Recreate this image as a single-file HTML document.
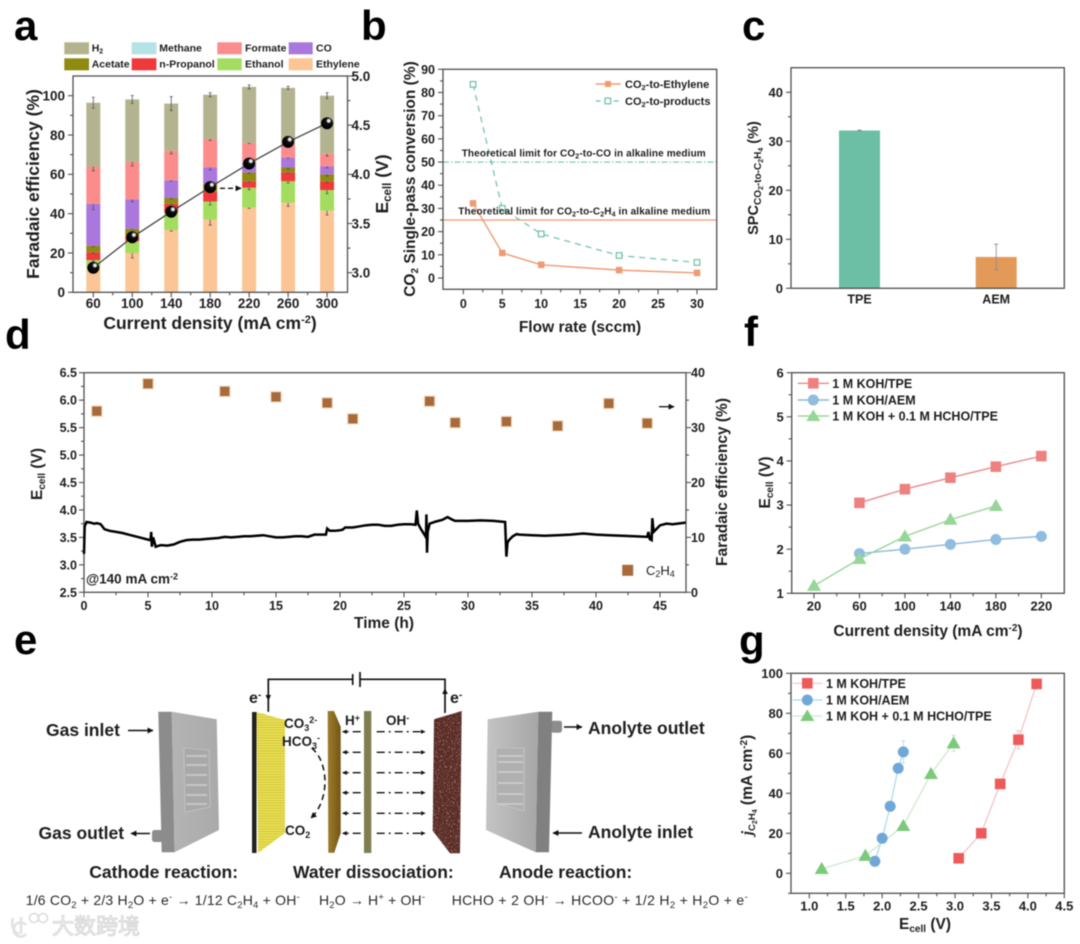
<!DOCTYPE html>
<html lang="en">
<head>
<meta charset="utf-8">
<title>Electrolyzer performance figure</title>
<style>
html,body{margin:0;padding:0;background:#fff;width:1080px;height:944px;overflow:hidden}
#figure{display:block;filter:blur(0.4px)}
text{font-family:"Liberation Sans","Noto Sans CJK SC",sans-serif;fill:#1e1e1e}
.b{font-weight:700}
.letter{font-size:42px;font-weight:700;fill:#000}
.title{font-size:15.5px;font-weight:700}
.big{font-size:17.5px;font-weight:700}
.leg{font-size:10.5px;font-weight:700}
.leg2{font-size:12.5px;font-weight:700}
.eq{font-size:14px;fill:#2a2a2a}
</style>
</head>
<body>
<svg id="figure" xmlns="http://www.w3.org/2000/svg" width="1080" height="944" viewBox="0 0 1080 944">
<defs>
<marker id="ah" viewBox="0 0 10 10" refX="9" refY="5" markerWidth="6" markerHeight="6" markerUnits="userSpaceOnUse" orient="auto"><path d="M0 0L10 5L0 10z" fill="#111"/></marker>
<marker id="ahs" viewBox="0 0 10 10" refX="9" refY="5" markerWidth="4.5" markerHeight="4.5" markerUnits="userSpaceOnUse" orient="auto"><path d="M0 0L10 5L0 10z" fill="#111"/></marker>
<radialGradient id="ball" cx="0.64" cy="0.3" r="0.6"><stop offset="0" stop-color="#fff"/><stop offset="0.2" stop-color="#ddd"/><stop offset="0.36" stop-color="#111"/><stop offset="1" stop-color="#000"/></radialGradient>
<linearGradient id="plateL" x1="0" x2="1" y1="0" y2="0"><stop offset="0" stop-color="#b4b4b4"/><stop offset="1" stop-color="#aaaaaa"/></linearGradient>
<linearGradient id="plateR" x1="0" x2="1" y1="0" y2="0"><stop offset="0" stop-color="#c4c4c4"/><stop offset="1" stop-color="#a6a6a6"/></linearGradient>
<linearGradient id="brownG" x1="0" x2="1" y1="0" y2="0"><stop offset="0" stop-color="#9c7d2c"/><stop offset="0.5" stop-color="#8a6a20"/><stop offset="1" stop-color="#6f5518"/></linearGradient>
<pattern id="yellowStripes" width="4" height="2.6" patternUnits="userSpaceOnUse"><rect width="4" height="2.6" fill="#ebe152"/><rect y="1.9" width="4" height="0.7" fill="#c4b938"/></pattern>
<filter id="speckle" x="0" y="0" width="100%" height="100%"><feTurbulence type="fractalNoise" baseFrequency="0.75" numOctaves="2" seed="4" result="n"/><feColorMatrix in="n" type="matrix" values="0 0 0 0 .78  0 0 0 0 .62  0 0 0 0 .58  0 0 0 4 -2.35"/><feComposite in2="SourceGraphic" operator="in"/></filter>
</defs>

<!-- panel letters -->
<text class="letter" x="14" y="40">a</text>
<text class="letter" x="361" y="40">b</text>
<text class="letter" x="742" y="40">c</text>
<text class="letter" x="5" y="349">d</text>
<text class="letter" x="14" y="654">e</text>
<text class="letter" x="744" y="346">f</text>
<text class="letter" x="739" y="655">g</text>

<!-- panel a static -->
<g>
<rect x="64.3" y="42.3" width="24.7" height="12" fill="#b3b48f"/>
<text class="leg" x="91.7" y="51.7">H<tspan dy="2" font-size="7">2</tspan></text>
<rect x="131.7" y="42.3" width="24.7" height="12" fill="#b3e3e6"/>
<text class="leg" x="159.3" y="51.7">Methane</text>
<rect x="217.3" y="42.3" width="24.4" height="12" fill="#fb8c8c"/>
<text class="leg" x="245" y="51.7">Formate</text>
<rect x="288.7" y="42.3" width="24" height="12" fill="#aa77dd"/>
<text class="leg" x="316" y="51.7">CO</text>
<rect x="64.3" y="58.3" width="24.7" height="12" fill="#8f8a10"/>
<text class="leg" x="91.7" y="67.7">Acetate</text>
<rect x="131.7" y="58.3" width="24.7" height="12" fill="#ee3a3a"/>
<text class="leg" x="159.3" y="67.7">n-Propanol</text>
<rect x="217.3" y="58.3" width="24.4" height="12" fill="#a4dc5f"/>
<text class="leg" x="245" y="67.7">Ethanol</text>
<rect x="288.7" y="58.3" width="24" height="12" fill="#fbc596"/>
<text class="leg" x="316" y="67.7">Ethylene</text>
</g>
<text class="big" font-size="17.3" transform="rotate(-90 39 184)" x="39" y="184" text-anchor="middle">Faradaic efficiency (%)</text>
<text class="big" x="210" y="329" text-anchor="middle">Current density (mA cm<tspan dy="-6" font-size="11">-2</tspan><tspan dy="6">)</tspan></text>
<text class="big" transform="rotate(-90 388 184)" x="388" y="184" text-anchor="middle">E<tspan dy="3" font-size="11.5">cell</tspan><tspan dy="-3"> (V)</tspan></text>
<g id="plotA"></g>
<line x1="220" y1="188.3" x2="241" y2="188.3" stroke="#111" stroke-width="1.4" stroke-dasharray="5 3" marker-end="url(#ah)"/>

<!-- panel b static -->
<text class="title" transform="rotate(-90 415 179)" x="415" y="179" text-anchor="middle">CO<tspan dy="3" font-size="10">2</tspan><tspan dy="-3"> Single-pass conversion (%)</tspan></text>
<text class="title" x="580" y="332" text-anchor="middle">Flow rate (sccm)</text>
<g id="plotB"></g>
<text class="b" font-size="10" x="461.7" y="156.7" textLength="244">Theoretical limit for CO<tspan dy="2" font-size="7">2</tspan><tspan dy="-2">-to-CO in alkaline medium</tspan></text>
<text class="b" font-size="10" x="458.3" y="214.3" textLength="252">Theoretical limit for CO<tspan dy="2" font-size="7">2</tspan><tspan dy="-2">-to-C</tspan><tspan dy="2" font-size="7">2</tspan><tspan dy="-2">H</tspan><tspan dy="2" font-size="7">4</tspan><tspan dy="-2"> in alkaline medium</tspan></text>
<g>
<line x1="595.7" y1="84" x2="620.7" y2="84" stroke="#ee9a72" stroke-width="1.4"/>
<rect x="605" y="81" width="6" height="6" fill="#ee9a72"/>
<text class="b" font-size="11" x="625" y="88">CO<tspan dy="2" font-size="7.5">2</tspan><tspan dy="-2">-to-Ethylene</tspan></text>
<line x1="595.7" y1="101" x2="620.7" y2="101" stroke="#6cbfa4" stroke-width="1.2" stroke-dasharray="5 4"/>
<rect x="605" y="98.2" width="5.6" height="5.6" fill="#fff" stroke="#6cbfa4" stroke-width="1.2"/>
<text class="b" font-size="11" x="625" y="105">CO<tspan dy="2" font-size="7.5">2</tspan><tspan dy="-2">-to-products</tspan></text>
</g>

<!-- panel c static -->
<text class="b" font-size="14.5" transform="rotate(-90 758 178)" x="758" y="178" text-anchor="middle">SPC<tspan dy="3" font-size="10">CO</tspan><tspan dy="2" font-size="7">2</tspan><tspan dy="-2" font-size="10">-to-C</tspan><tspan dy="2" font-size="7">2</tspan><tspan dy="-2" font-size="10">H</tspan><tspan dy="2" font-size="7">4</tspan><tspan dy="-5"> (%)</tspan></text>
<g id="plotC"></g>

<!-- panel d static -->
<text class="title" transform="rotate(-90 42 474)" x="42" y="474" text-anchor="middle">E<tspan dy="3" font-size="10">cell</tspan><tspan dy="-3"> (V)</tspan></text>
<text class="title" x="384" y="628" text-anchor="middle">Time (h)</text>
<text class="title" transform="rotate(-90 727 482)" x="727" y="482" text-anchor="middle">Faradaic efficiency (%)</text>
<g id="plotD"></g>
<text class="b" font-size="13.5" x="86" y="583.3">@140 mA cm<tspan dy="-4" font-size="9">-2</tspan></text>
<rect x="622.2" y="564.8" width="11" height="11" fill="#a86a38"/>
<text font-size="13" font-weight="500" x="646" y="575">C<tspan dy="2" font-size="9">2</tspan><tspan dy="-2">H</tspan><tspan dy="2" font-size="9">4</tspan></text>
<line x1="659" y1="406.7" x2="674" y2="406.7" stroke="#111" stroke-width="1.3" marker-end="url(#ah)"/>

<!-- panel f static -->
<text class="title" transform="rotate(-90 770 482.5)" x="770" y="482.5" text-anchor="middle">E<tspan dy="3" font-size="10">cell</tspan><tspan dy="-3"> (V)</tspan></text>
<text class="title" x="928" y="636" text-anchor="middle">Current density (mA cm<tspan dy="-5" font-size="10">-2</tspan><tspan dy="5">)</tspan></text>
<g id="plotF"></g>
<g>
<line x1="797.7" y1="383.3" x2="829" y2="383.3" stroke="#ea8a8a" stroke-width="1.4"/>
<rect x="808" y="378" width="10.6" height="10.6" fill="#ee8080"/>
<text class="leg2" x="832.3" y="388">1 M KOH/TPE</text>
<line x1="797.7" y1="400" x2="829" y2="400" stroke="#8db8dc" stroke-width="1.4"/>
<circle cx="813.3" cy="400" r="5.5" fill="#8fbce0"/>
<text class="leg2" x="832.3" y="404.6">1 M KOH/AEM</text>
<line x1="797.7" y1="416" x2="829" y2="416" stroke="#98d598" stroke-width="1.4"/>
<polygon points="813.3,409.5 820.3,421 806.3,421" fill="#98d598"/>
<text class="leg2" x="832.3" y="420.6">1 M KOH + 0.1 M HCHO/TPE</text>
</g>

<!-- panel g static -->
<text class="title" transform="rotate(-90 752 785)" x="752" y="785" text-anchor="middle"><tspan font-style="italic" font-family="Liberation Serif">j</tspan><tspan dy="3" font-size="9.5">C</tspan><tspan dy="2" font-size="7">2</tspan><tspan dy="-2" font-size="9.5">H</tspan><tspan dy="2" font-size="7">4</tspan><tspan dy="-5"> (mA cm</tspan><tspan dy="-5" font-size="10">-2</tspan><tspan dy="5">)</tspan></text>
<text class="title" x="925" y="929" text-anchor="middle">E<tspan dy="3" font-size="10">cell</tspan><tspan dy="-3"> (V)</tspan></text>
<g id="plotG"></g>
<g>
<line x1="792.7" y1="683.3" x2="822.3" y2="683.3" stroke="#f5c0c0" stroke-width="1.2"/>
<rect x="802" y="678" width="10.6" height="10.6" fill="#ee5a5a"/>
<text class="leg2" x="826" y="688">1 M KOH/TPE</text>
<line x1="792.7" y1="700" x2="822.3" y2="700" stroke="#b0d4ea" stroke-width="1.2"/>
<circle cx="807.3" cy="700" r="5.5" fill="#6fa8d8"/>
<text class="leg2" x="826" y="704.6">1 M KOH/AEM</text>
<line x1="792.7" y1="716" x2="822.3" y2="716" stroke="#c8e8c8" stroke-width="1.2"/>
<polygon points="807.3,709.5 814.3,721 800.3,721" fill="#7cc97c"/>
<text class="leg2" x="826" y="720.6">1 M KOH + 0.1 M HCHO/TPE</text>
</g>

<!-- panel e diagram -->
<g>
<g>
<rect x="152" y="830" width="11" height="12" rx="2.5" fill="#8d8d8d"/>
<polygon points="171.7,711.7 216.7,719.3 219,830 174.5,852.3" fill="url(#plateL)"/>
<polygon points="158.3,711.7 171.7,711.7 174.5,852.3 161.7,852.3" fill="#8c8c8c"/>
<polygon points="184,748 209,750 210,807 185,812" fill="#a8a8a8" stroke="#cfcfcf" stroke-width="0.6"/>
<path d="M186 756H207M186 765H207M186 775H207M186 785H207M186 795H207M186 804H207" stroke="#c9c9c9" stroke-width="1.8" fill="none"/>
</g>
<rect x="252" y="712" width="4.5" height="141" fill="#222"/>
<polygon points="256.5,712 285,720 285,833 258,853" fill="url(#yellowStripes)"/>
<polygon points="327.7,711 334,711 340.7,726.7 340.7,833 334.3,852.7 328.3,852.7" fill="url(#brownG)"/>
<rect x="364" y="711" width="7.3" height="142" fill="#7e7e50"/>
<polygon points="434,719.3 461.7,711 460,853.3 450,853.3 432.7,830.7" fill="#5a2c26"/>
<polygon points="434,719.3 461.7,711 460,853.3 450,853.3 432.7,830.7" fill="#000" filter="url(#speckle)"/>
<g>
<rect x="551" y="720.7" width="11" height="12" rx="2.5" fill="#8d8d8d"/>
<polygon points="487.7,719.3 538.3,711.7 535.7,852.3 486,830" fill="url(#plateR)"/>
<polygon points="538.3,711.7 552.3,711.7 549,852.3 535.7,852.3" fill="#808080"/>
<polygon points="496,748 524,748 524,811 496,803" fill="#b0b0b0" stroke="#d0d0d0" stroke-width="0.6"/>
<path d="M498 756H523M498 762H523M498 772H523M498 783H523M498 794H523M498 804H523" stroke="#cfcfcf" stroke-width="1.5" fill="none"/>
</g>
<path d="M268.3 711.7V679.3H352.7M360 679.3H445V713" fill="none" stroke="#111" stroke-width="1.7"/>
<line x1="352.7" y1="674" x2="352.7" y2="685" stroke="#111" stroke-width="1.7"/>
<line x1="360" y1="672" x2="360" y2="687" stroke="#111" stroke-width="1.7"/>
<polygon points="265.5,695 271,695 268.3,701" fill="#111"/>
<polygon points="442.2,694 447.8,694 445,688" fill="#111"/>
<text class="b" font-size="16" x="249" y="703">e<tspan dy="-5" font-size="10.5">-</tspan></text>
<text class="b" font-size="16" x="450" y="703">e<tspan dy="-5" font-size="10.5">-</tspan></text>
<text class="b" font-size="13.5" x="284" y="728">CO<tspan dy="3" font-size="9">3</tspan><tspan dy="-8" font-size="9">2-</tspan></text>
<text class="b" font-size="13.5" x="282" y="746">HCO<tspan dy="3" font-size="9">3</tspan><tspan dy="-8" font-size="9">-</tspan></text>
<text class="b" font-size="13.5" x="285" y="835">CO<tspan dy="3" font-size="9">2</tspan></text>
<text class="b" font-size="13.5" x="345" y="725">H<tspan dy="-4" font-size="9">+</tspan></text>
<text class="b" font-size="13.5" x="386" y="725">OH<tspan dy="-4" font-size="9">-</tspan></text>
<path d="M311.7 748C329 762 330 800 311 818" fill="none" stroke="#111" stroke-width="1.5" stroke-dasharray="6 4" marker-end="url(#ah)"/>
<g stroke="#111" stroke-width="1.3" fill="none">
<line x1="360.7" y1="731.7" x2="342.7" y2="731.7" stroke-dasharray="8 4" marker-end="url(#ahs)"/>
<line x1="360.7" y1="752.3" x2="342.7" y2="752.3" stroke-dasharray="8 4" marker-end="url(#ahs)"/>
<line x1="360.7" y1="772.7" x2="342.7" y2="772.7" stroke-dasharray="8 4" marker-end="url(#ahs)"/>
<line x1="360.7" y1="792.7" x2="342.7" y2="792.7" stroke-dasharray="8 4" marker-end="url(#ahs)"/>
<line x1="360.7" y1="813.3" x2="342.7" y2="813.3" stroke-dasharray="8 4" marker-end="url(#ahs)"/>
<line x1="360.7" y1="833.3" x2="342.7" y2="833.3" stroke-dasharray="8 4" marker-end="url(#ahs)"/>
</g>
<g stroke="#111" stroke-width="1.3" fill="none">
<line x1="376.7" y1="731.7" x2="425" y2="731.7" stroke-dasharray="8 4 2 4" marker-end="url(#ahs)"/>
<line x1="376.7" y1="752.3" x2="425" y2="752.3" stroke-dasharray="8 4 2 4" marker-end="url(#ahs)"/>
<line x1="376.7" y1="772.7" x2="425" y2="772.7" stroke-dasharray="8 4 2 4" marker-end="url(#ahs)"/>
<line x1="376.7" y1="792.7" x2="425" y2="792.7" stroke-dasharray="8 4 2 4" marker-end="url(#ahs)"/>
<line x1="376.7" y1="813.3" x2="425" y2="813.3" stroke-dasharray="8 4 2 4" marker-end="url(#ahs)"/>
<line x1="376.7" y1="833.3" x2="425" y2="833.3" stroke-dasharray="8 4 2 4" marker-end="url(#ahs)"/>
</g>
<text class="big" x="46" y="736">Gas inlet</text>
<line x1="128" y1="730.5" x2="153" y2="730.5" stroke="#111" stroke-width="1.5" marker-end="url(#ah)"/>
<text class="big" x="38.5" y="839">Gas outlet</text>
<line x1="150" y1="833.5" x2="131" y2="833.5" stroke="#111" stroke-width="1.5" marker-end="url(#ah)"/>
<text class="big" x="588" y="734">Anolyte outlet</text>
<line x1="564" y1="727" x2="582" y2="727" stroke="#111" stroke-width="1.5" marker-end="url(#ah)"/>
<text class="big" x="588" y="838">Anolyte inlet</text>
<line x1="582" y1="833" x2="553" y2="833" stroke="#111" stroke-width="1.5" marker-end="url(#ah)"/>
<text class="big" x="89.3" y="878">Cathode reaction:</text>
<text class="big" x="293" y="878">Water dissociation:</text>
<text class="big" x="499" y="878">Anode reaction:</text>
<text class="eq" x="25.7" y="905" textLength="274">1/6 CO<tspan dy="3" font-size="9.5">2</tspan><tspan dy="-3"> + 2/3 H</tspan><tspan dy="3" font-size="9.5">2</tspan><tspan dy="-3">O + e</tspan><tspan dy="-5" font-size="9.5">-</tspan><tspan dy="5"> → 1/12 C</tspan><tspan dy="3" font-size="9.5">2</tspan><tspan dy="-3">H</tspan><tspan dy="3" font-size="9.5">4</tspan><tspan dy="-3"> + OH</tspan><tspan dy="-5" font-size="9.5">-</tspan></text>
<text class="eq" x="319" y="905" textLength="106">H<tspan dy="3" font-size="9.5">2</tspan><tspan dy="-3">O → H</tspan><tspan dy="-5" font-size="9.5">+</tspan><tspan dy="5"> + OH</tspan><tspan dy="-5" font-size="9.5">-</tspan></text>
<text class="eq" x="451.7" y="905" textLength="296">HCHO + 2 OH<tspan dy="-5" font-size="9.5">-</tspan><tspan dy="5"> → HCOO</tspan><tspan dy="-5" font-size="9.5">-</tspan><tspan dy="5"> + 1/2 H</tspan><tspan dy="3" font-size="9.5">2</tspan><tspan dy="-3"> + H</tspan><tspan dy="3" font-size="9.5">2</tspan><tspan dy="-3">O + e</tspan><tspan dy="-5" font-size="9.5">-</tspan></text>
</g>

<!-- watermark -->
<g>
<path d="M13 918C11 925 13 932 19 934M21 917V934M26 925A7 7 0 1 0 26 934" fill="none" stroke="#e2e2e2" stroke-width="2.6"/>
<circle cx="34" cy="918" r="4.5" fill="#fff" stroke="#dcdcdc" stroke-width="1.6"/>
<circle cx="43" cy="918" r="4.5" fill="#fff" stroke="#dcdcdc" stroke-width="1.6"/>
<text x="52" y="934" font-size="22" style="fill:#f2f2f2;stroke:#d6d6d6;stroke-width:0.9">大数跨境</text>
</g>
</svg>

<script>
// ---- panel a data ----
const aCategories = [60, 100, 140, 180, 220, 260, 300];
const aEthylene = [12, 20, 31.7, 37, 43, 45.5, 41.5];
const aEthanol = [4.4, 6, 8.8, 9.2, 10.2, 11, 10.5];
const aPropanol = [4, 2.3, 4.5, 5, 3.3, 4.5, 4.5];
const aAcetate = [3.3, 4, 3, 4, 4.5, 2.5, 3.5];
const aCO = [21.3, 15, 9, 8.3, 5, 5, 4];
const aFormate = [19, 19, 15, 14.5, 10, 6.5, 6.5];
const aH2 = [32.4, 31.8, 24, 22.5, 28.5, 29, 29.5];
const aErrEthylene = [1, 2.5, 0.6, 2.8, 0.3, 1.8, 2.2];
const aErrEthanol = [0.6, 0.5, 0.5, 1.8, 1, 0.9, 1.8];
const aErrPropanol = [0.5, 0.3, 0.4, 0.5, 0.6, 0.4, 0.8];
const aErrAcetate = [0.5, 0.4, 0.5, 0.4, 0.6, 0.9, 0.8];
const aErrCO = [3, 1.2, 0.4, 1.2, 0.3, 0.3, 0.7];
const aErrFormate = [2.2, 2, 1.5, 0.8, 0.3, 0.3, 1.2];
const aErrH2 = [2.8, 2, 3.5, 1, 1, 0.8, 1.5];
const aCellVoltage = [3.05, 3.36, 3.62, 3.87, 4.11, 4.33, 4.52];
const aYTicks = [0, 20, 40, 60, 80, 100];
const aYRightTicks = ['3.0', '3.5', '4.0', '4.5', '5.0'];

// ---- panel b data ----
const bFlowRate = [1.25, 5, 10, 20, 30];
const bEthylene = [32.2, 10.8, 5.7, 3.4, 2.2];
const bProducts = [83.5, 30, 19, 9.7, 6.7];
const bLimitCO = [50];
const bLimitC2H4 = [25];
const bXTicks = [0, 5, 10, 15, 20, 25, 30];
const bYTicks = [0, 10, 20, 30, 40, 50, 60, 70, 80, 90];

// ---- panel c data ----
const cCategories = ['TPE', 'AEM'];
const cValues = [32.2, 6.4];
const cErrors = [0.1, 2.6];
const cYTicks = [0, 10, 20, 30, 40];

// ---- panel d data ----
const dTime = [0, 0.05, 0.2, 0.5, 0.8, 1, 1.3, 1.6, 2, 2.5, 3, 3.5, 4, 4.5, 5, 5.2, 5.25, 5.3, 5.4, 5.5, 5.6, 6, 6.5, 7, 7.5, 8, 8.5, 9, 9.5, 10, 10.5, 11, 11.5, 12, 12.5, 13, 13.5, 14, 14.5, 15, 15.5, 16, 16.5, 17, 17.5, 18, 18.9, 19, 19.2, 19.6, 20, 20.2, 20.4, 21, 21.5, 22, 22.5, 23, 23.5, 24, 24.5, 25, 25.5, 25.9, 26, 26.1, 26.3, 26.6, 26.72, 26.75, 26.8, 26.85, 27, 27.5, 28, 28.4, 28.8, 29, 30, 31, 32, 32.9, 33, 33.08, 33.2, 33.5, 33.8, 34, 35, 36, 37, 38, 39, 40, 41, 42, 43, 44, 44.1, 44.2, 44.35, 44.4, 44.5, 45, 45.5, 46, 47];
const dVoltage = [3.2, 3.7, 3.78, 3.77, 3.75, 3.76, 3.74, 3.65, 3.62, 3.6, 3.58, 3.55, 3.52, 3.49, 3.46, 3.45, 3.6, 3.33, 3.5, 3.42, 3.33, 3.36, 3.35, 3.37, 3.42, 3.45, 3.46, 3.46, 3.47, 3.48, 3.49, 3.51, 3.5, 3.51, 3.52, 3.52, 3.53, 3.54, 3.52, 3.5, 3.5, 3.51, 3.52, 3.52, 3.51, 3.55, 3.55, 3.66, 3.62, 3.62, 3.63, 3.64, 3.68, 3.68, 3.7, 3.72, 3.73, 3.73, 3.71, 3.71, 3.73, 3.74, 3.74, 3.73, 3.99, 3.75, 3.66, 3.55, 3.5, 3.92, 3.22, 3.6, 3.75, 3.79, 3.82, 3.87, 3.82, 3.8, 3.8, 3.81, 3.8, 3.78, 3.15, 3.4, 3.45, 3.52, 3.56, 3.55, 3.54, 3.53, 3.54, 3.55, 3.57, 3.55, 3.54, 3.53, 3.52, 3.51, 3.6, 3.47, 3.45, 3.85, 3.6, 3.72, 3.75, 3.74, 3.77];
const dFETime = [1, 5, 11, 15, 19, 21, 27, 29, 33, 37, 41, 44];
const dFE = [33, 38, 36.6, 35.6, 34.5, 31.6, 34.8, 30.9, 31.1, 30.3, 34.4, 30.8];
const dXTicks = [0, 5, 10, 15, 20, 25, 30, 35, 40, 45];
const dYTicks = ['2.5', '3.0', '3.5', '4.0', '4.5', '5.0', '5.5', '6.0', '6.5'];
const dYRightTicks = [0, 10, 20, 30, 40];

// ---- panel f data ----
const fCurrentTPE = [60, 100, 140, 180, 220];
const fTPE = [3.05, 3.36, 3.62, 3.87, 4.11];
const fCurrentAEM = [60, 100, 140, 180, 220];
const fAEM = [1.9, 2.0, 2.11, 2.22, 2.29];
const fCurrentHCHO = [20, 60, 100, 140, 180];
const fHCHO = [1.17, 1.78, 2.29, 2.67, 2.98];
const fXTicks = [20, 60, 100, 140, 180, 220];
const fYTicks = [1, 2, 3, 4, 5, 6];

// ---- panel g data ----
const gETPE = [3.05, 3.36, 3.62, 3.87, 4.12];
const gJTPE = [7.5, 20, 44.7, 66.8, 94.7];
const gErrTPE = [0.5, 1, 1, 4.5, 1];
const gEAEM = [1.9, 2.0, 2.11, 2.22, 2.29];
const gJAEM = [6, 17.5, 33.5, 52.5, 60.7];
const gErrAEM = [0.5, 1, 1, 1, 5.5];
const gEHCHO = [1.17, 1.77, 2.29, 2.67, 2.98];
const gJHCHO = [2.2, 8.8, 23.7, 49.7, 65];
const gErrHCHO = [0.3, 0.5, 1, 1, 4];
const gXTicks = ['1.0', '1.5', '2.0', '2.5', '3.0', '3.5', '4.0', '4.5'];
const gYTicks = [0, 20, 40, 60, 80, 100];

const NS = 'http://www.w3.org/2000/svg';
const AXIS = '#4f4f4f';
function el(tag, attrs, parent) {
  const n = document.createElementNS(NS, tag);
  for (const k in attrs) n.setAttribute(k, attrs[k]);
  parent.appendChild(n);
  return n;
}
function frame(parent, l, t, r, b) {
  const f = el('rect', {x: l, y: t, width: r - l, height: b - t, fill: 'none', stroke: AXIS, 'stroke-width': 1.3}, parent);
  
  
}
function tick(parent, x1, y1, x2, y2) {
  const t = el('line', {x1, y1, x2, y2, stroke: AXIS, 'stroke-width': 1.1}, parent);
  
  
}
function label(parent, x, y, str, anchor, size) {
  const t = el('text', {x, y, 'text-anchor': anchor, 'font-size': size, 'font-weight': 700}, parent);
  t.textContent = str;
  
  
}
function yAxis(parent, values, scale, edge, dir, size, lblGap, minor) {
  values.forEach(function (v) {
    const y = scale(+v);
    tick(parent, edge, y, edge + dir * 5, y);
    label(parent, edge + dir * lblGap, y + size * 0.36, String(v), dir < 0 ? 'end' : 'start', size);
  });
  for (let i = 0; i < values.length - 1; i++) {
    const y = scale((+values[i] + +values[i + 1]) / 2);
    tick(parent, edge, y, edge + dir * 3, y);
  }
  if (minor !== undefined) tick(parent, edge, scale(minor), edge + dir * 3, scale(minor));
}
function xAxis(parent, values, scale, edge, size, baseline, minorEnd) {
  values.forEach(function (v) {
    const x = scale(+v);
    tick(parent, x, edge, x, edge + 5);
    label(parent, x, baseline, String(v), 'middle', size);
  });
  for (let i = 0; i < values.length - 1; i++) {
    const x = scale((+values[i] + +values[i + 1]) / 2);
    tick(parent, x, edge, x, edge + 3);
  }
}
function errorBar(parent, x, yTop, yBot, cap, color) {
  const e = el('path', {d: 'M' + (x - cap) + ' ' + yTop + 'H' + (x + cap) + 'M' + x + ' ' + yTop + 'V' + yBot + 'M' + (x - cap) + ' ' + yBot + 'H' + (x + cap), stroke: color, 'stroke-width': 0.8, fill: 'none'}, parent);
  
  
}
function polyline(parent, xs, ys, xScale, yScale, stroke, width, dash) {
  const pts = xs.map(function (x, i) { return xScale(x) + ',' + yScale(ys[i]); }).join(' ');
  const l = el('polyline', {points: pts, fill: 'none', stroke: stroke, 'stroke-width': width}, parent);
  if (dash) l.setAttribute('stroke-dasharray', dash);
  
  
}
function square(parent, cx, cy, s, fill, stroke) {
  const r = el('rect', {x: cx - s / 2, y: cy - s / 2, width: s, height: s, fill: fill}, parent);
  if (stroke) { r.setAttribute('stroke', stroke); r.setAttribute('stroke-width', 1.2); }
  
  
}
function circle(parent, cx, cy, rad, fill) {
  const c = el('circle', {cx, cy, r: rad, fill}, parent);
  
  
}
function triangle(parent, cx, cy, s, fill) {
  const h = s * 0.87;
  const t = el('polygon', {points: cx + ',' + (cy - h * 0.58) + ' ' + (cx + s / 2) + ',' + (cy + h * 0.42) + ' ' + (cx - s / 2) + ',' + (cy + h * 0.42), fill}, parent);
  
  
}

// ---- panel a ----
(function () {
  const g = document.getElementById('plotA');
  const L = 73, R = 347.5, T = 76, B = 292.3;
  const x = function (v) { return 93.3 + (v - 60) * 0.974; };
  const y = function (v) { return B - v * 1.966; };
  const yR = function (v) { return 272.7 - (v - 3) * 98.35; };
  const stack = [aEthylene, aEthanol, aPropanol, aAcetate, aCO, aFormate, aH2];
  const errs = [aErrEthylene, aErrEthanol, aErrPropanol, aErrAcetate, aErrCO, aErrFormate, aErrH2];
  const colors = ['#fbc596', '#a4dc5f', '#ee3a3a', '#8f8a10', '#aa77dd', '#fb8c8c', '#b3b48f'];
  aCategories.forEach(function (c, i) {
    let base = 0;
    stack.forEach(function (s, k) {
      const r = el('rect', {x: x(c) - 7, y: y(base + s[i]), width: 14, height: s[i] * 1.966, fill: colors[k]}, g);
      
      
      base += s[i];
      errorBar(g, x(c), y(base + errs[k][i]), y(base - errs[k][i]), 1.5, '#555');
    });
  });
  frame(g, L, T, R, B);
  yAxis(g, aYTicks, y, L, -1, 13.5, 8);
  yAxis(g, aYRightTicks, yR, R, 1, 13.5, 4);
  xAxis(g, aCategories, x, B, 13.5, 308);
  polyline(g, aCategories, aCellVoltage, x, yR, '#444', 1.3);
  aCategories.forEach(function (c, i) {
    const b = el('circle', {cx: x(c), cy: yR(aCellVoltage[i]), r: 6, fill: 'url(#ball)'}, g);
    
    
  });
})();

// ---- panel b ----
(function () {
  const g = document.getElementById('plotB');
  const L = 443, R = 716.7, T = 69.3, B = 289.3;
  const x = function (v) { return 463.3 + v * 7.79; };
  const y = function (v) { return 278 - v * 2.319; };
  const limCO = el('line', {x1: L, x2: R, y1: y(bLimitCO[0]), y2: y(bLimitCO[0]), stroke: '#6cc9aa', 'stroke-width': 1.1, 'stroke-dasharray': '6 2 1.5 2'}, g);
  
  
  const limC = el('line', {x1: L, x2: R, y1: y(bLimitC2H4[0]), y2: y(bLimitC2H4[0]), stroke: '#ee9a72', 'stroke-width': 1.2}, g);
  
  
  frame(g, L, T, R, B);
  yAxis(g, bYTicks, y, L, -1, 12.5, 8);
  xAxis(g, bXTicks, x, B, 12.5, 308);
  polyline(g, bFlowRate, bProducts, x, y, '#6cbfa4', 1.2, '6 5');
  polyline(g, bFlowRate, bEthylene, x, y, '#ee9a72', 1.4);
  bFlowRate.forEach(function (f, i) {
    square(g, x(f), y(bProducts[i]), 5.6, '#fff', '#6cbfa4');
    square(g, x(f), y(bEthylene[i]), 6.5, '#ee9a72');
  });
})();

// ---- panel c ----
(function () {
  const g = document.getElementById('plotC');
  const L = 791, R = 1064.3, T = 67.7, B = 288.3;
  const centers = [859.5, 996.2];
  const colors = ['#6cbfa4', '#e39a58'];
  const y = function (v) { return B - v * 4.9; };
  cCategories.forEach(function (c, i) {
    const r = el('rect', {x: centers[i] - 20.5, y: y(cValues[i]), width: 41, height: cValues[i] * 4.9, fill: colors[i]}, g);
    
    
    errorBar(g, centers[i], y(cValues[i] + cErrors[i]), y(cValues[i] - cErrors[i]), 2, '#888');
    label(g, centers[i], 303.3, c, 'middle', 12.5);
  });
  frame(g, L, T, R, B);
  yAxis(g, cYTicks, y, L, -1, 13, 8);
})();

// ---- panel d ----
(function () {
  const g = document.getElementById('plotD');
  const L = 84, R = 686, T = 372.7, B = 592.3;
  const x = function (v) { return 84 + v * 12.8; };
  const y = function (v) { return B - (v - 2.5) * 54.9; };
  const yR = function (v) { return B - v * 5.49; };
  frame(g, L, T, R, B);
  yAxis(g, dYTicks, y, L, -1, 12.5, 7);
  yAxis(g, dYRightTicks, yR, R, 1, 12.5, 5);
  xAxis(g, dXTicks, x, B, 12.5, 610);
  polyline(g, dTime, dVoltage, x, y, '#000', 2.5);
  dFETime.forEach(function (t, i) {
    square(g, x(t), yR(dFE[i]), 10.5, '#a86a38', '#f2dfca');
  });
})();

// ---- panel f ----
(function () {
  const g = document.getElementById('plotF');
  const L = 791.7, R = 1064.3, T = 372.7, B = 593.3;
  const x = function (v) { return 814 + (v - 20) * 1.1367; };
  const y = function (v) { return B - (v - 1) * 44.12; };
  frame(g, L, T, R, B);
  yAxis(g, fYTicks, y, L, -1, 13, 8);
  xAxis(g, fXTicks, x, B, 13, 610.7);
  polyline(g, fCurrentTPE, fTPE, x, y, '#ea8a8a', 1.4);
  polyline(g, fCurrentAEM, fAEM, x, y, '#8db8dc', 1.4);
  polyline(g, fCurrentHCHO, fHCHO, x, y, '#98d598', 1.4);
  fCurrentTPE.forEach(function (c, i) { square(g, x(c), y(fTPE[i]), 10.6, '#ee8080'); });
  fCurrentAEM.forEach(function (c, i) { circle(g, x(c), y(fAEM[i]), 5.5, '#8fbce0'); });
  fCurrentHCHO.forEach(function (c, i) { triangle(g, x(c), y(fHCHO[i]), 14, '#98d598'); });
})();

// ---- panel g ----
(function () {
  const g = document.getElementById('plotG');
  const L = 791, R = 1064.3, T = 673.3, B = 893.3;
  const x = function (v) { return 809.3 + (v - 1) * 72.86; };
  const y = function (v) { return 873.3 - v * 2; };
  frame(g, L, T, R, B);
  yAxis(g, gYTicks, y, L, -1, 13, 8, -10);
  xAxis(g, gXTicks, x, B, 13, 910.7);
  polyline(g, gETPE, gJTPE, x, y, '#f5c0c0', 1.2);
  polyline(g, gEAEM, gJAEM, x, y, '#b0d4ea', 1.2);
  polyline(g, gEHCHO, gJHCHO, x, y, '#c8e8c8', 1.2);
  gETPE.forEach(function (e, i) {
    errorBar(g, x(e), y(gJTPE[i] + gErrTPE[i]), y(gJTPE[i] - gErrTPE[i]), 2, '#f0b8b8');
    square(g, x(e), y(gJTPE[i]), 10.6, '#ee5a5a');
  });
  gEAEM.forEach(function (e, i) {
    errorBar(g, x(e), y(gJAEM[i] + gErrAEM[i]), y(gJAEM[i] - gErrAEM[i]), 2, '#b0d4ea');
    circle(g, x(e), y(gJAEM[i]), 5.5, '#6fa8d8');
  });
  gEHCHO.forEach(function (e, i) {
    errorBar(g, x(e), y(gJHCHO[i] + gErrHCHO[i]), y(gJHCHO[i] - gErrHCHO[i]), 2, '#c0e0c0');
    triangle(g, x(e), y(gJHCHO[i]), 14, '#7cc97c');
  });
})();
</script>
</body>
</html>
